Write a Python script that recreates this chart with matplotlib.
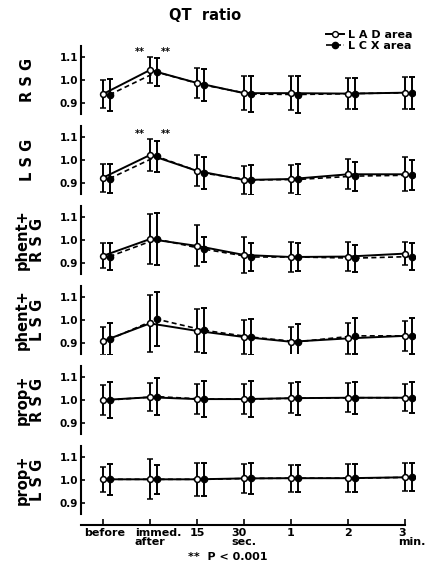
import matplotlib.pyplot as plt
import matplotlib.transforms as mtransforms
from matplotlib.lines import Line2D

plt.rcParams['font.family'] = 'DejaVu Sans'
plt.rcParams['font.weight'] = 'bold'

# time points (x axis)
time_labels = ['before', 'immed.\nafter', '15', '30\nsec.', '1', '2', '3\nmin.']
time_pos = [0, 1, 2, 3, 4, 5.22, 6.43]

panel_labels = ['R S G', 'L S G', 'phent+\nR S G', 'phent+\nL S G',
                'prop+\nR S G', 'prop+\nL S G']

# LAD area (open circles), mean and error per panel
lad_rsg = [0.938, 1.044, 0.987, 0.942, 0.942, 0.940, 0.944]
lad_rsg_err = [0.062, 0.058, 0.068, 0.075, 0.075, 0.067, 0.070]
lad_lsg = [0.922, 1.022, 0.952, 0.912, 0.916, 0.937, 0.937]
lad_lsg_err = [0.062, 0.071, 0.068, 0.062, 0.060, 0.067, 0.075]
lad_phent_rsg = [0.930, 1.004, 0.974, 0.934, 0.925, 0.927, 0.940]
lad_phent_rsg_err = [0.055, 0.110, 0.090, 0.080, 0.064, 0.065, 0.050]
lad_phent_lsg = [0.907, 0.985, 0.952, 0.925, 0.904, 0.919, 0.930]
lad_phent_lsg_err = [0.060, 0.124, 0.095, 0.075, 0.063, 0.067, 0.067]
lad_prop_rsg = [1.000, 1.012, 1.004, 1.004, 1.008, 1.010, 1.010]
lad_prop_rsg_err = [0.065, 0.062, 0.065, 0.065, 0.067, 0.065, 0.060]
lad_prop_lsg = [1.003, 1.003, 1.003, 1.007, 1.008, 1.008, 1.012]
lad_prop_lsg_err = [0.056, 0.088, 0.072, 0.065, 0.060, 0.062, 0.062]

# LCX area (filled circles)
lcx_rsg = [0.935, 1.035, 0.978, 0.938, 0.936, 0.940, 0.944]
lcx_rsg_err = [0.070, 0.060, 0.070, 0.080, 0.080, 0.070, 0.070]
lcx_lsg = [0.918, 1.016, 0.942, 0.912, 0.914, 0.929, 0.933]
lcx_lsg_err = [0.063, 0.070, 0.070, 0.068, 0.068, 0.064, 0.065]
lcx_phent_rsg = [0.927, 1.004, 0.960, 0.925, 0.925, 0.920, 0.927]
lcx_phent_rsg_err = [0.058, 0.113, 0.055, 0.062, 0.060, 0.060, 0.060]
lcx_phent_lsg = [0.915, 1.004, 0.955, 0.925, 0.904, 0.930, 0.930]
lcx_phent_lsg_err = [0.070, 0.120, 0.100, 0.078, 0.078, 0.080, 0.078]
lcx_prop_rsg = [1.000, 1.015, 1.004, 1.004, 1.008, 1.010, 1.010]
lcx_prop_rsg_err = [0.080, 0.083, 0.078, 0.078, 0.072, 0.070, 0.068]
lcx_prop_lsg = [1.003, 1.003, 1.003, 1.007, 1.008, 1.008, 1.012]
lcx_prop_lsg_err = [0.068, 0.065, 0.072, 0.067, 0.060, 0.062, 0.062]

lad_all = [(lad_rsg, lad_rsg_err), (lad_lsg, lad_lsg_err),
           (lad_phent_rsg, lad_phent_rsg_err), (lad_phent_lsg, lad_phent_lsg_err),
           (lad_prop_rsg, lad_prop_rsg_err), (lad_prop_lsg, lad_prop_lsg_err)]
lcx_all = [(lcx_rsg, lcx_rsg_err), (lcx_lsg, lcx_lsg_err),
           (lcx_phent_rsg, lcx_phent_rsg_err), (lcx_phent_lsg, lcx_phent_lsg_err),
           (lcx_prop_rsg, lcx_prop_rsg_err), (lcx_prop_lsg, lcx_prop_lsg_err)]

# panels with ** P < 0.001 at "immed. after"
starred = [0, 1]

W, H = 429, 576
fig = plt.figure(figsize=(W / 100, H / 100), dpi=100)

offset = 0.14
xlim = (-0.468, 6.64)

axes = []
for k in range(6):
    center = 80 + 80 * k
    ax = fig.add_axes([81 / W, 1 - (center + 34) / H, 334 / W, 68 / H])
    axes.append(ax)
    m, e = lad_all[k]
    ax.errorbar(time_pos, m, yerr=e, fmt='-o', color='black', mfc='white',
                mec='black', ms=4.2, mew=1.1, lw=1.4, elinewidth=1.4,
                capsize=2.2, capthick=1.4, zorder=3)
    m2, e2 = lcx_all[k]
    x2 = [p + offset for p in time_pos]
    ax.errorbar(x2, m2, yerr=e2, fmt='--o', color='black', mfc='black',
                ms=4.5, lw=1.2, dashes=(3, 2), elinewidth=1.4,
                capsize=2.2, capthick=1.4, zorder=2)
    ax.set_xlim(*xlim)
    ax.set_ylim(0.85, 1.15)
    ax.set_yticks([0.9, 1.0, 1.1])
    ax.set_yticklabels(['0.9', '1.0', '1.1'], fontsize=7.5, fontweight='bold')
    ax.tick_params(axis='y', direction='in', length=3, width=1.2, pad=2)
    for s in ['top', 'right', 'bottom']:
        ax.spines[s].set_visible(False)
    ax.spines['left'].set_linewidth(1.5)
    ax.set_xticks([])
    fig.text(27 / W if '\n' not in panel_labels[k] else 30 / W,
             1 - center / H, panel_labels[k], rotation=90, ha='center',
             va='center', fontsize=10.5, fontweight='bold',
             multialignment='center', linespacing=1.0)
    if k in starred:
        ytop = max(m[1] + e[1], m2[1] + e2[1]) + 0.02
        ax.text(time_pos[1] - 0.22, ytop, '**', ha='center', va='center', fontsize=7)
        ax.text(time_pos[1] + offset + 0.2, ytop, '**', ha='center', va='center', fontsize=7)

# bottom time axis
ax = axes[-1]
ax.spines['bottom'].set_visible(True)
ax.spines['bottom'].set_position(('outward', 8))
ax.spines['bottom'].set_linewidth(1.5)
ax.spines['bottom'].set_bounds(xlim[0], time_pos[-1])
ax.set_xticks(time_pos)
ax.set_xticklabels(time_labels, fontsize=8, fontweight='bold', linespacing=0.85)
ax.tick_params(axis='x', direction='in', length=4, width=1.2, pad=2)
shifts = [2, 8, 0, 0, 0, 0, 7]
for lbl, dx in zip(ax.get_xticklabels(), shifts):
    lbl.set_multialignment('left')
    lbl.set_transform(lbl.get_transform() +
                      mtransforms.ScaledTranslation(dx / 100, 0, fig.dpi_scale_trans))

fig.text(205 / W, 1 - 15 / H, 'QT  ratio', ha='center', va='center',
         fontsize=10.5, fontweight='bold')

handles = [Line2D([0], [0], color='black', ls='-', marker='o', mfc='white', ms=4.2, lw=1.4),
           Line2D([0], [0], color='black', ls='--', marker='o', mfc='black', ms=4.5, lw=1.2)]
fig.legend(handles, ['L A D area', 'L C X area'], loc='upper right',
           bbox_to_anchor=(418 / W, 1 - 24 / H), frameon=False, fontsize=8,
           handlelength=1.6, handletextpad=0.4, labelspacing=0.15, borderpad=0)

fig.text(228 / W, 1 - 557 / H, '**  P < 0.001', ha='center', va='center',
         fontsize=8, fontweight='bold')

fig.savefig('out.png', dpi=100)
